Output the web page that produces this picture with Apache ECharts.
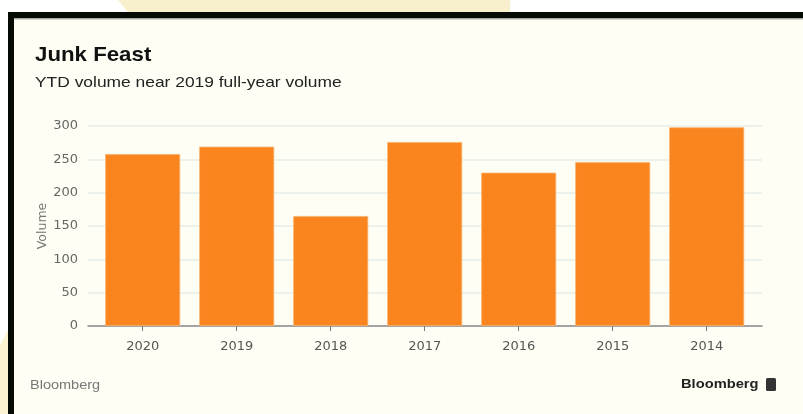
<!DOCTYPE html>
<html>
<head>
<meta charset="utf-8">
<script src="https://cdn.jsdelivr.net/npm/echarts@6/dist/echarts.min.js"></script>
<style>
html,body{margin:0;padding:0;background:#ffffff;}
#c{width:803px;height:414px;}
</style>
</head>
<body>
<div id="c"></div>
<script>
const categories = ['2020', '2019', '2018', '2017', '2016', '2015', '2014'];
const volumes = [258, 269, 165, 276, 230, 246, 298];
const yTicks = { min: 0, max: 300, interval: 50 };

const chart = echarts.init(document.getElementById('c'), null, { renderer: 'canvas' });
const font = 'Helvetica, "Liberation Sans", Arial, sans-serif';
const axisFont = '"DejaVu Sans", sans-serif';

function txt(x, y, text, fnt, fill, sx) {
  return { type: 'text', x: x, y: y, scaleX: sx, z: 2,
    style: { x: 0, y: 0, text: text, font: fnt, fill: fill, textVerticalAlign: 'top', textAlign: 'left' } };
}

chart.setOption({
  backgroundColor: '#ffffff',
  animation: false,
  graphic: [
    { type: 'polygon', shape: { points: [[123, 0], [510, 0], [510, 12], [128, 12], [118, 0]] },
      style: { fill: '#f8efcc' }, z: 0 },
    { type: 'polygon', shape: { points: [[0, 345], [8, 330], [8, 414], [0, 414]] },
      style: { fill: '#fbf3d2' }, z: 0 },
    { type: 'rect', shape: { x: 14, y: 18, width: 789, height: 396 }, style: { fill: '#fefef4' }, z: 0 },
    { type: 'rect', shape: { x: 8, y: 12, width: 795, height: 6 }, style: { fill: '#050a05' }, z: 1 },
    { type: 'rect', shape: { x: 14, y: 18, width: 789, height: 1.5 }, style: { fill: '#a8aca0' }, z: 1 },
    { type: 'rect', shape: { x: 8, y: 12, width: 6, height: 402 }, style: { fill: '#050a05' }, z: 1 },
    txt(35, 45, 'Junk Feast', 'bold 21px ' + font, '#111', 1.06),
    txt(35, 75, 'YTD volume near 2019 full-year volume', '15px ' + font, '#222', 1.16),
    txt(30, 379, 'Bloomberg', '12.5px ' + font, '#777', 1.16),
    txt(681, 378, 'Bloomberg', 'bold 13px ' + font, '#222', 1.13),
    { type: 'rect', shape: { x: 766, y: 378, width: 10, height: 13, r: 1.5 }, style: { fill: '#333' }, z: 2 }
  ],
  grid: [
    { left: 88, right: 41, top: 126, bottom: 88 },
    { left: 95.7, right: 49.3, top: 126, bottom: 88 }
  ],
  xAxis: [
    { type: 'value', gridIndex: 0, min: 0, max: 1, show: true,
      axisLine: { show: true, lineStyle: { color: '#8a8a8a', width: 1.5 } },
      axisTick: { show: false }, axisLabel: { show: false }, splitLine: { show: false } },
    { type: 'category', gridIndex: 1, data: categories,
      axisLine: { show: false },
      axisTick: { show: true, alignWithLabel: true, length: 5, lineStyle: { color: '#777' } },
      axisLabel: { color: '#555', fontSize: 13, fontFamily: axisFont, margin: 14 } }
  ],
  yAxis: [
    { type: 'value', gridIndex: 0, min: yTicks.min, max: yTicks.max, interval: yTicks.interval,
      name: 'Volume', nameLocation: 'middle', nameGap: 39, nameRotate: 90, nameMoveOverlap: false,
      nameTextStyle: { color: '#777', fontSize: 12.5, fontFamily: axisFont },
      axisLine: { show: false }, axisTick: { show: false },
      axisLabel: { color: '#666', fontSize: 13, fontFamily: axisFont, margin: 10 },
      splitLine: { show: true, lineStyle: { color: '#e6ecea', width: 1.5 } } },
    { type: 'value', gridIndex: 1, min: yTicks.min, max: yTicks.max, interval: yTicks.interval, show: false,
      splitLine: { show: false } }
  ],
  series: [{
    type: 'bar', xAxisIndex: 1, yAxisIndex: 1, data: volumes, barWidth: 75,
    itemStyle: { color: '#fa841e', borderColor: '#f6b470', borderWidth: 0.8 }
  }]
});
</script>
</body>
</html>
